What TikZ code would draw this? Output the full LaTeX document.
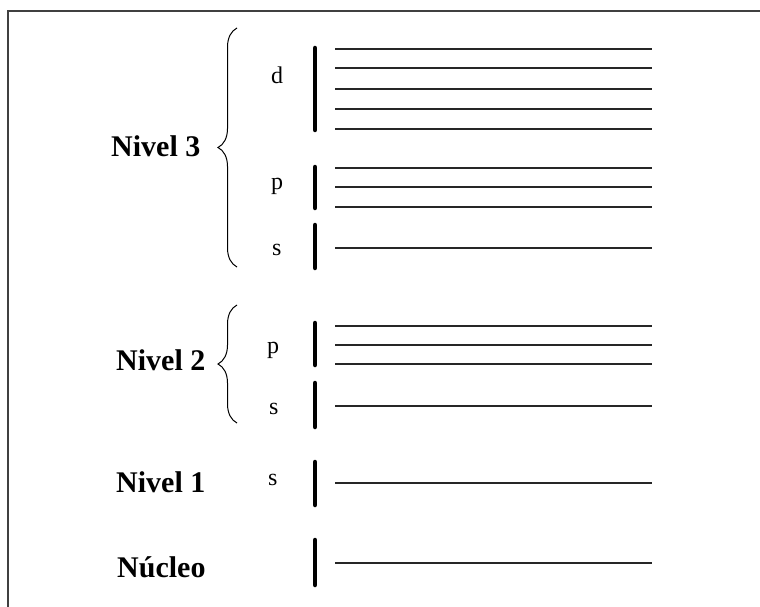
\documentclass[tikz,border=0pt]{standalone}
\usepackage{fontspec}
\setmainfont{Liberation Serif}
\usetikzlibrary{positioning,decorations.pathreplacing}

\begin{document}
\begin{tikzpicture}[x=1pt, y=-1pt,
  level/.style={font=\fontsize{30}{32}\selectfont\bfseries, inner sep=0pt,
                anchor=base west},
  orb/.style={font=\fontsize{24}{26}\selectfont, inner sep=0pt, anchor=base west},
  bar/.style={line width=4.5pt, line cap=round},
  slot/.style={line width=1.6pt, black!85},
  curly/.style={decorate, decoration={brace, amplitude=19pt}, line width=1pt}]
\useasboundingbox (0,0) rectangle (760,607);
\draw[line width=1.5pt, black!75] (760,11) -- (8,11) -- (8,607);

% levels
\node[level] (n3) at (111,157) {Nivel 3};
\node[level] (n2) at (116,370) {Nivel 2};
\node[level] (n1) at (116,492) {Nivel 1};
\node[level] (nuc) at (117,577) {Núcleo};

% braces
\coordinate (b3top) at (237,28);
\coordinate (b3bot) at (237,267);
\coordinate (b2top) at (237,305);
\coordinate (b2bot) at (237,423);
\draw[curly] (b3bot) -- (b3top);
\draw[curly] (b2bot) -- (b2top);

% sublevels
\node[orb] (d3) at (271,84) {d};
\node[orb] (p3) at (271,189) {p};
\node[orb] (s3) at (272,255) {s};
\node[orb] (p2) at (267,353) {p};
\node[orb] (s2) at (269,414) {s};
\node[orb] (s1) at (268,485) {s};

% thick bars
\draw[bar] (315,48) -- (315,130);
\draw[bar] (315,167) -- (315,208);
\draw[bar] (315,225) -- (315,268);
\draw[bar] (315,323) -- (315,365);
\draw[bar] (315,383) -- (315,427);
\draw[bar] (315,462) -- (315,505);
\draw[bar] (315,540) -- (315,585);

% orbitals
\draw[slot] (335,49) -- (652,49) (335,68) -- (652,68) (335,89) -- (652,89)
  (335,109) -- (652,109) (335,129) -- (652,129);
\draw[slot] (335,168) -- (652,168) (335,187) -- (652,187) (335,207) -- (652,207);
\draw[slot] (335,248) -- (652,248);
\draw[slot] (335,326) -- (652,326) (335,345) -- (652,345) (335,364) -- (652,364);
\draw[slot] (335,406) -- (652,406);
\draw[slot] (335,483) -- (652,483);
\draw[slot] (335,563) -- (652,563);
\end{tikzpicture}
\end{document}
